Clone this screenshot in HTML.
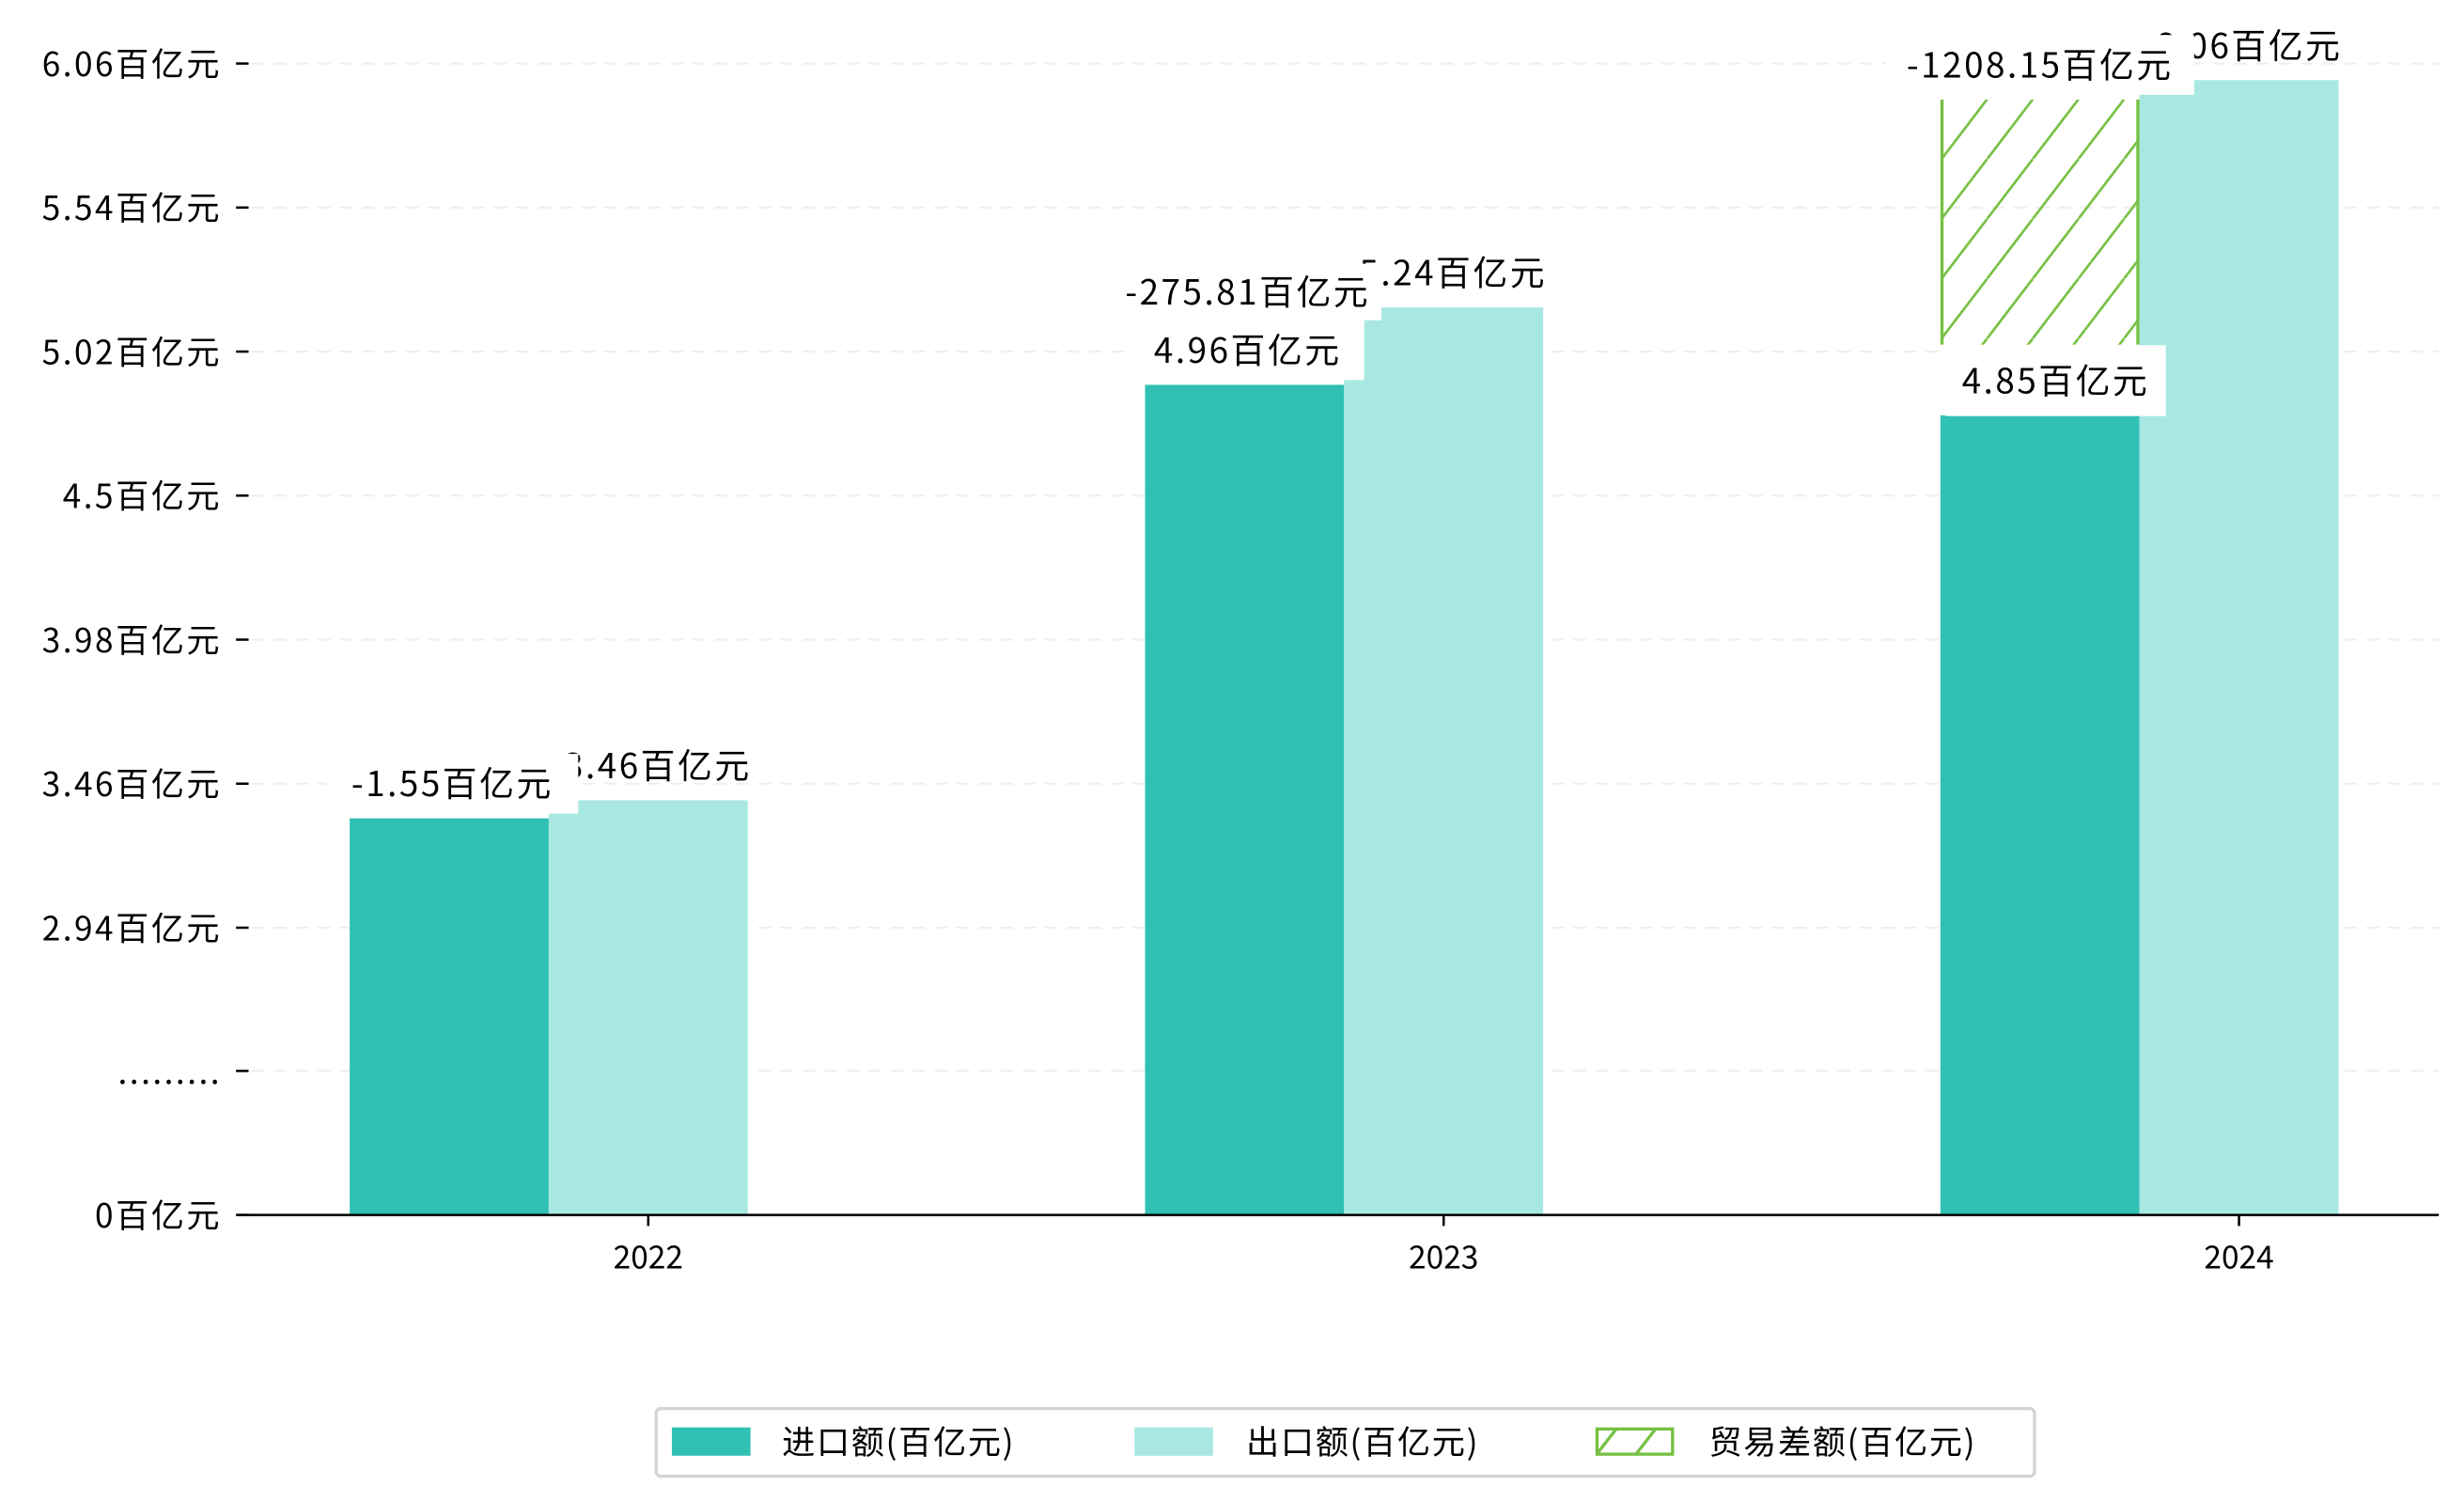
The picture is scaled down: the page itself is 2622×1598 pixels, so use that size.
<!DOCTYPE html>
<html><head><meta charset="utf-8"><style>
html,body{margin:0;padding:0;background:#fff;}
svg{display:block;}
text{font-family:"WenQuanYi Zen Hei","Noto Sans CJK SC","Liberation Sans",sans-serif;fill:#000;}
</style></head><body>
<svg id="chart" width="2622" height="1598" viewBox="0 0 1566 954.4" preserveAspectRatio="none" xmlns="http://www.w3.org/2000/svg">
<defs>
<pattern id="hatch" patternUnits="userSpaceOnUse" width="29" height="38" patternTransform="translate(1234,63)">
<line x1="-29" y1="38" x2="0" y2="0" stroke="#76c043" stroke-width="1.6"/>
<line x1="0" y1="38" x2="29" y2="0" stroke="#76c043" stroke-width="1.6"/>
<line x1="29" y1="38" x2="58" y2="0" stroke="#76c043" stroke-width="1.6"/>
</pattern>
<pattern id="hatchLeg" patternUnits="userSpaceOnUse" width="25" height="18" patternTransform="translate(1014,907)">
<line x1="0" y1="18" x2="14" y2="0" stroke="#76c043" stroke-width="2"/>
<line x1="25" y1="18" x2="39" y2="0" stroke="#76c043" stroke-width="2"/>
</pattern>
</defs>
<g id="grid"></g>
<g id="yaxis"></g>
<g id="bars"></g>
<g id="labels"></g>
<g id="xaxis"></g>
<g>
<rect x="417" y="895" width="876" height="43" rx="3" fill="#fff" stroke="#d4d4d4" stroke-width="2"/>
<g>
<rect x="427" y="907" width="50" height="18" fill="#30c0b4"/>
<text x="497" y="924" font-size="21" letter-spacing="1">进口额(百亿元)</text></g>
<g>
<rect x="721" y="907" width="50" height="18" fill="#a9e8e2"/>
<text x="792" y="924" font-size="21" letter-spacing="1">出口额(百亿元)</text></g>
<g>
<rect x="1015" y="908" width="48" height="16" fill="url(#hatchLeg)" stroke="#76c043" stroke-width="2"/>
<text x="1086" y="924" font-size="21" letter-spacing="1">贸易差额(百亿元)</text></g>
</g>
</svg>
<script>
const categories = ["2022","2023","2024"];
const importVals = [3.335, 4.90, 4.79];
const exportVals = [3.40, 5.18, 6.00];
const importLabels = ["3.34百亿元","4.96百亿元","4.85百亿元"];
const exportLabels = ["3.46百亿元","5.24百亿元","6.06百亿元"];
const balanceLabels = ["-1.55百亿元","-275.81百亿元","-1208.15百亿元"];
const balanceStart = [null, null, 5.045];
const balanceEnd = [null, null, 5.93];
const yTickVals = [0, 2.42, 2.94, 3.46, 3.98, 4.5, 5.02, 5.54, 6.06];
const yTickLabels = ["0百亿元",".........","2.94百亿元","3.46百亿元","3.98百亿元","4.5百亿元","5.02百亿元","5.54百亿元","6.06百亿元"];

const NS="http://www.w3.org/2000/svg";
function mk(tag, attrs, parent){const e=document.createElementNS(NS,tag);for(const k in attrs)e.setAttribute(k,attrs[k]);parent.appendChild(e);return e;}
function y(v){ if(v<=2.42) return 772 - v/2.42*91.5; return 681 - (v-2.42)*176; }
function barY(v){ return y(v); }
function xc(i){ return 412 + i*505.5; }
const bw=126.5;
const grid=document.getElementById('grid'), ya=document.getElementById('yaxis'), bars=document.getElementById('bars'), labs=document.getElementById('labels'), xa=document.getElementById('xaxis');

yTickVals.forEach((v,i)=>{
  const yy=y(v);
  if(v>0){const g=mk('line',{x1:160,x2:1550,y1:yy,y2:yy,stroke:'#eeeeee','stroke-width':1.2,'stroke-dasharray':'8,6'},grid);
  
  }
  const t=mk('line',{x1:150,x2:158,y1:yy,y2:yy,stroke:'#000','stroke-width':1.5},ya);
  
  
  const tx=mk('text',{x:141,y:yy+8,'font-size':21,'text-anchor':'end','letter-spacing':1.5},ya);
  
  
  tx.textContent=yTickLabels[i];
});

function label(txt,cx,cy,boxW,boxH){
  const g=mk('g',{},labs);
  
  
  mk('rect',{x:cx-boxW/2,y:cy-boxH/2,width:boxW,height:boxH,fill:'#fff'},g);
  const t=mk('text',{x:cx,y:cy+8,'font-size':22,'text-anchor':'middle','letter-spacing':1.5},g);
  t.textContent=txt;
}

categories.forEach((c,i)=>{
  const cx=xc(i);
  const r1=mk('rect',{x:cx-bw*1.5,y:barY(importVals[i]),width:bw,height:772-barY(importVals[i]),fill:'#30c0b4'},bars);
  
  
  const r2=mk('rect',{x:cx-bw*0.5,y:barY(exportVals[i]),width:bw,height:772-barY(exportVals[i]),fill:'#a9e8e2'},bars);
  
  
  if(balanceStart[i]!==null){
    const y0=barY(balanceStart[i]), y1=barY(balanceEnd[i]);
    const r3=mk('rect',{x:cx-bw*1.5+1,y:y1,width:bw-2,height:y0-y1,fill:'url(#hatch)',stroke:'none'},bars);
    
    
    const l1=mk('line',{x1:cx-bw*1.5+1,x2:cx-bw*1.5+1,y1:y1,y2:y0,stroke:'#76c043','stroke-width':2},bars);
    
    
    const l2=mk('line',{x1:cx-bw*0.5-1,x2:cx-bw*0.5-1,y1:y1,y2:y0,stroke:'#76c043','stroke-width':2},bars);
    
    
  }
  const ix=cx-bw, ex=cx;
  const eTop=barY(exportVals[i]), iTop=barY(importVals[i]);
  label(exportLabels[i], ex+6, eTop-22, 0, 0);
  if(balanceStart[i]!==null){
    label(importLabels[i], ix+10, iTop-22, 140, 45);
    label(balanceLabels[i], ix, barY(balanceEnd[i])-22, 196, 38);
  } else if(i===1){
    label(importLabels[i], ix+2, iTop-22, 148, 38);
    label(balanceLabels[i], ix+2, iTop-59, 170, 36);
  } else {
    label(balanceLabels[i], ix+2, iTop-22, 160, 38);
  }
  const tk=mk('line',{x1:cx,x2:cx,y1:772,y2:779,stroke:'#000','stroke-width':1.5},xa);
  
  
  const xt=mk('text',{x:cx,y:806,'font-size':20,'text-anchor':'middle'},xa);
  
  
  xt.textContent=c;
});
const ax=mk('line',{x1:152,x2:1550,y1:772,y2:772,stroke:'#000','stroke-width':1.5},xa);


</script>
</body></html>
